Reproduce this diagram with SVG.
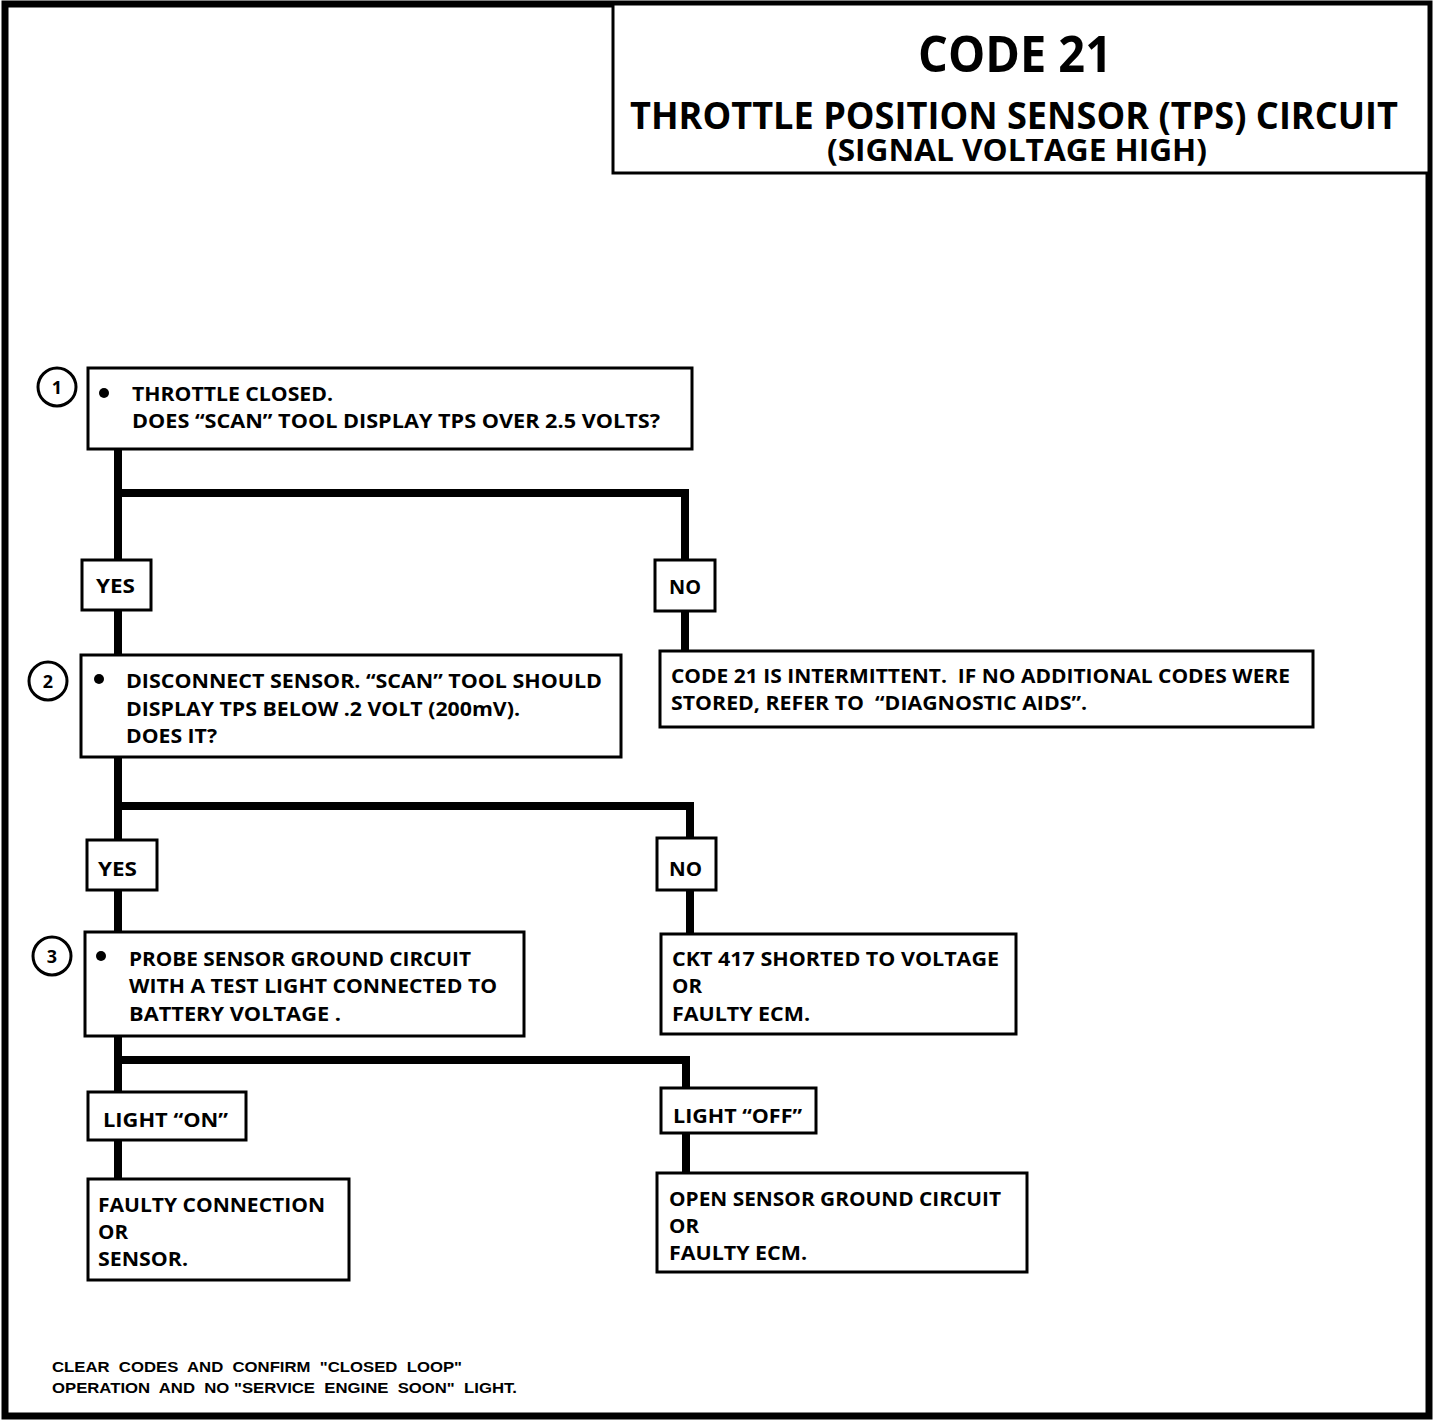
<svg xmlns="http://www.w3.org/2000/svg" width="1456" height="1420" viewBox="0 0 1456 1420">
<style>
text{white-space:pre}
.box{fill:#fff;stroke:#000;stroke-width:3}
.lbl{fill:#fff;stroke:#000;stroke-width:3}
.t{font-family:"Open Sans","DejaVu Sans",sans-serif;font-weight:bold;font-size:20px;fill:#000}
.ttl{font-family:"Open Sans","DejaVu Sans",sans-serif;font-weight:bold;fill:#000}
.ft{font-family:"Liberation Sans",Arial,sans-serif;font-weight:bold;font-size:15px;fill:#000}
.num{font-family:"Open Sans","DejaVu Sans",sans-serif;font-weight:bold;font-size:18px;fill:#000}
.c{fill:#fff;stroke:#000;stroke-width:3}
.wire{fill:none;stroke:#000;stroke-width:8;stroke-linejoin:miter;stroke-linecap:butt}
</style>
<rect x="0" y="0" width="1456" height="1420" fill="#fff"/>
<rect id="frame" x="5" y="4" width="1424" height="1412" fill="none" stroke="#000" stroke-width="7"/>

<g id="title">
<rect x="613" y="4" width="816" height="169" fill="#fff" stroke="#000" stroke-width="3"/>
<text class="ttl" x="1015" y="72" font-size="50" text-anchor="middle" textLength="194" lengthAdjust="spacingAndGlyphs">CODE 21</text>
<text class="ttl"><tspan x="630" y="129" font-size="37" textLength="768" lengthAdjust="spacingAndGlyphs">THROTTLE POSITION SENSOR (TPS) CIRCUIT</tspan><tspan x="827" y="161" font-size="30" textLength="380" lengthAdjust="spacingAndGlyphs">(SIGNAL VOLTAGE HIGH)</tspan></text>
</g>

<g id="connectors">
<path class="wire" d="M118 449 V560"/>
<path class="wire" d="M118 493 H685 V560"/>
<path class="wire" d="M118 610 V655"/>
<path class="wire" d="M685 611 V651"/>
<path class="wire" d="M118 757 V840"/>
<path class="wire" d="M118 806 H690 V838"/>
<path class="wire" d="M118 890 V932"/>
<path class="wire" d="M690 890 V934"/>
<path class="wire" d="M118 1036 V1092"/>
<path class="wire" d="M118 1060 H686 V1088"/>
<path class="wire" d="M118 1140 V1179"/>
<path class="wire" d="M686 1133 V1173"/>
</g>

<g id="step1">
<circle class="c" cx="57" cy="387" r="19"/>
<text class="num" x="57" y="394" text-anchor="middle">1</text>
<rect class="box" x="88" y="368" width="604" height="81"/>
<circle cx="104" cy="393" r="5"/>
<text class="t" x="132" y="401" textLength="201" lengthAdjust="spacingAndGlyphs">THROTTLE CLOSED.</text>
<text class="t" x="132" y="428" textLength="528" lengthAdjust="spacingAndGlyphs">DOES “SCAN” TOOL DISPLAY TPS OVER 2.5 VOLTS?</text>
</g>

<g id="yes1">
<rect class="lbl" x="82" y="560" width="69" height="50"/>
<text class="t" x="96" y="593" textLength="39" lengthAdjust="spacingAndGlyphs">YES</text>
</g>
<g id="no1">
<rect class="lbl" x="655" y="560" width="60" height="51"/>
<text class="t" x="669" y="594" textLength="32" lengthAdjust="spacingAndGlyphs">NO</text>
</g>

<g id="step2">
<circle class="c" cx="48" cy="681" r="19"/>
<text class="num" x="48" y="688" text-anchor="middle">2</text>
<rect class="box" x="81" y="655" width="540" height="102"/>
<circle cx="99" cy="679" r="5"/>
<text class="t" x="126" y="688" textLength="476" lengthAdjust="spacingAndGlyphs">DISCONNECT SENSOR. “SCAN” TOOL SHOULD</text>
<text class="t" x="126" y="716" textLength="394" lengthAdjust="spacingAndGlyphs">DISPLAY TPS BELOW .2 VOLT (200mV).</text>
<text class="t" x="126" y="743" textLength="91" lengthAdjust="spacingAndGlyphs">DOES IT?</text>
</g>

<g id="intermittent">
<rect class="box" x="660" y="651" width="653" height="76"/>
<text class="t" x="671" y="683" textLength="619" lengthAdjust="spacingAndGlyphs">CODE 21 IS INTERMITTENT.  IF NO ADDITIONAL CODES WERE</text>
<text class="t" x="671" y="710" textLength="416" lengthAdjust="spacingAndGlyphs">STORED, REFER TO  “DIAGNOSTIC AIDS”.</text>
</g>

<g id="yes2">
<rect class="lbl" x="87" y="840" width="70" height="50"/>
<text class="t" x="98" y="876" textLength="39" lengthAdjust="spacingAndGlyphs">YES</text>
</g>
<g id="no2">
<rect class="lbl" x="657" y="838" width="59" height="52"/>
<text class="t" x="669" y="876" textLength="33" lengthAdjust="spacingAndGlyphs">NO</text>
</g>

<g id="step3">
<circle class="c" cx="52" cy="956" r="19"/>
<text class="num" x="52" y="963" text-anchor="middle">3</text>
<rect class="box" x="85" y="932" width="439" height="104"/>
<circle cx="101" cy="956" r="5"/>
<text class="t" x="129" y="966" textLength="342" lengthAdjust="spacingAndGlyphs">PROBE SENSOR GROUND CIRCUIT</text>
<text class="t" x="129" y="993" textLength="368" lengthAdjust="spacingAndGlyphs">WITH A TEST LIGHT CONNECTED TO</text>
<text class="t" x="129" y="1021" textLength="212" lengthAdjust="spacingAndGlyphs">BATTERY VOLTAGE .</text>
</g>

<g id="ckt417">
<rect class="box" x="661" y="934" width="355" height="100"/>
<text class="t" x="672" y="966" textLength="327" lengthAdjust="spacingAndGlyphs">CKT 417 SHORTED TO VOLTAGE</text>
<text class="t" x="672" y="993" textLength="30" lengthAdjust="spacingAndGlyphs">OR</text>
<text class="t" x="672" y="1021" textLength="138" lengthAdjust="spacingAndGlyphs">FAULTY ECM.</text>
</g>

<g id="lighton">
<rect class="lbl" x="88" y="1092" width="158" height="48"/>
<text class="t" x="103" y="1127" textLength="125" lengthAdjust="spacingAndGlyphs">LIGHT “ON”</text>
</g>
<g id="lightoff">
<rect class="lbl" x="661" y="1088" width="155" height="45"/>
<text class="t" x="673" y="1123" textLength="129" lengthAdjust="spacingAndGlyphs">LIGHT “OFF”</text>
</g>

<g id="faultyconn">
<rect class="box" x="88" y="1179" width="261" height="101"/>
<text class="t" x="98" y="1212" textLength="227" lengthAdjust="spacingAndGlyphs">FAULTY CONNECTION</text>
<text class="t" x="98" y="1239" textLength="30" lengthAdjust="spacingAndGlyphs">OR</text>
<text class="t" x="98" y="1266" textLength="90" lengthAdjust="spacingAndGlyphs">SENSOR.</text>
</g>

<g id="opensensor">
<rect class="box" x="657" y="1173" width="370" height="99"/>
<text class="t" x="669" y="1206" textLength="332" lengthAdjust="spacingAndGlyphs">OPEN SENSOR GROUND CIRCUIT</text>
<text class="t" x="669" y="1233" textLength="30" lengthAdjust="spacingAndGlyphs">OR</text>
<text class="t" x="669" y="1260" textLength="138" lengthAdjust="spacingAndGlyphs">FAULTY ECM.</text>
</g>

<g id="footer">
<text class="ft" x="52" y="1372" textLength="410" lengthAdjust="spacingAndGlyphs">CLEAR  CODES  AND  CONFIRM  "CLOSED  LOOP"</text>
<text class="ft" x="52" y="1393" textLength="465" lengthAdjust="spacingAndGlyphs">OPERATION  AND  NO "SERVICE  ENGINE  SOON"  LIGHT.</text>
</g>
</svg>
